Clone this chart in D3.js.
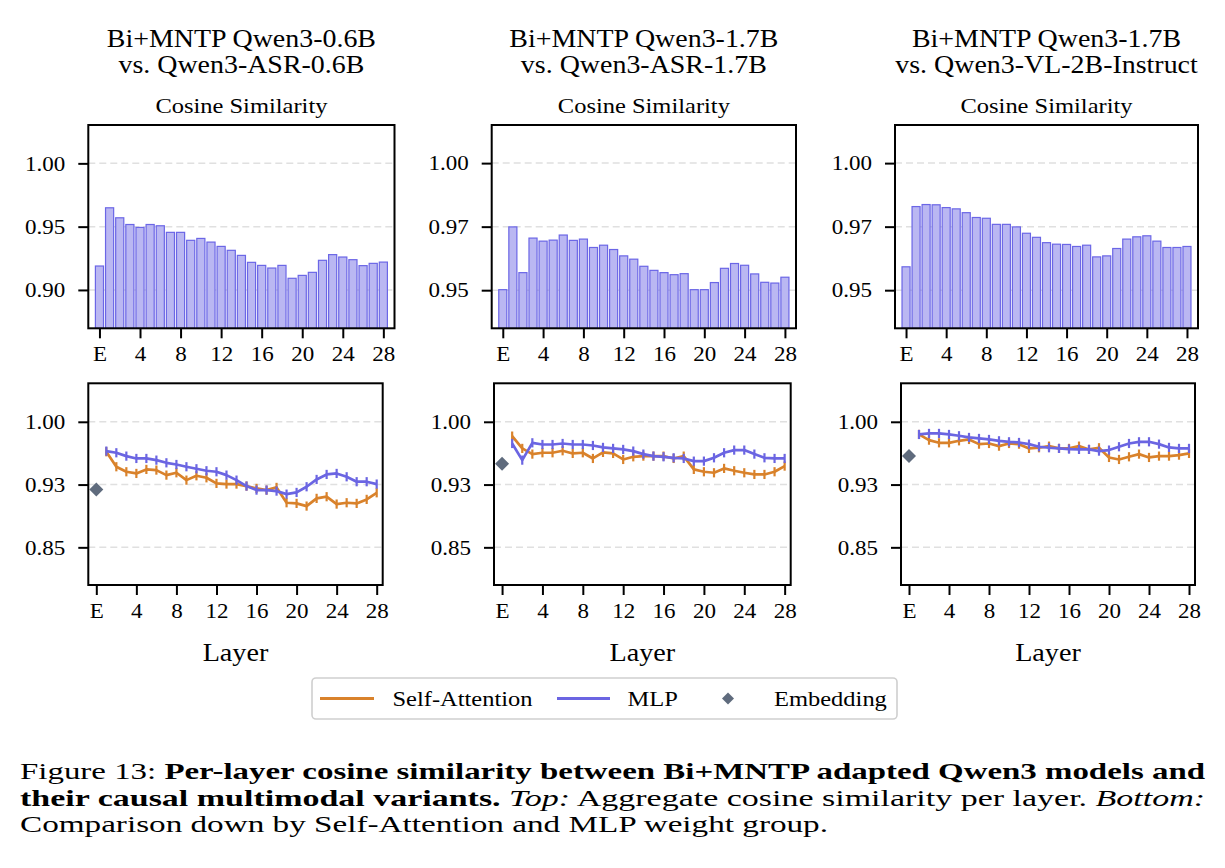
<!DOCTYPE html>
<html>
<head>
<meta charset="utf-8">
<script src="https://cdn.jsdelivr.net/npm/d3@7"></script>
<style>
  body { margin: 0; background: #fff; }
  svg text { font-family: "Liberation Serif", "Times New Roman", Tinos, serif; fill: #000; }
  .cap { position: absolute; left: 20px; font-family: "Liberation Serif", "Times New Roman", serif; font-size: 24px;
         line-height: 27px; white-space: nowrap; transform-origin: 0 0; }
</style>
</head>
<body>
<svg id="chart" width="1225" height="745"></svg>
<div id="caption"></div>
<script>
// ---- data ----
const titleLines = [
  ["Bi+MNTP Qwen3-0.6B", "vs. Qwen3-ASR-0.6B"],
  ["Bi+MNTP Qwen3-1.7B", "vs. Qwen3-ASR-1.7B"],
  ["Bi+MNTP Qwen3-1.7B", "vs. Qwen3-VL-2B-Instruct"]
];
const subTitle = "Cosine Similarity";
const xLabel = "Layer";

const layerTicks = [0, 4, 8, 12, 16, 20, 24, 28];
const layerTickLabels = ["E", "4", "8", "12", "16", "20", "24", "28"];

const topTicks = [[0.90, 0.95, 1.00], [0.95, 0.975, 1.00], [0.95, 0.975, 1.00]];
const topTickLabels = [["0.90", "0.95", "1.00"], ["0.95", "0.97", "1.00"], ["0.95", "0.97", "1.00"]];
const topDomains = [[0.8697, 1.0303], [0.935, 1.015], [0.935, 1.015]];

const botTicks = [0.85, 0.925, 1.00];
const botTickLabels = ["0.85", "0.93", "1.00"];
const botDomain = [0.805, 1.046];

// aggregate cosine similarity, E then layers 1..28
const barsA = [0.9189, 0.9649, 0.9570, 0.9517, 0.9494, 0.9517, 0.9507, 0.9455, 0.9455, 0.9392, 0.9407, 0.9378, 0.9344, 0.9313, 0.9273,
  0.9218, 0.9194, 0.9173, 0.9194, 0.9092, 0.9115, 0.9139, 0.9234, 0.9279, 0.9260, 0.9239, 0.9192, 0.9210, 0.9220];
const barsB = [0.9502, 0.9749, 0.9569, 0.9705, 0.9693, 0.9697, 0.9717, 0.9696, 0.9701, 0.9668, 0.9677, 0.9660, 0.9635, 0.9622, 0.9594,
  0.9578, 0.9569, 0.9561, 0.9565, 0.9502, 0.9502, 0.9530, 0.9586, 0.9605, 0.9598, 0.9564, 0.9531, 0.9528, 0.9551];
const barsC = [0.9592, 0.9829, 0.9837, 0.9836, 0.9825, 0.9820, 0.9805, 0.9786, 0.9783, 0.9759, 0.9759, 0.9749, 0.9724, 0.9708, 0.9687,
  0.9681, 0.9680, 0.9672, 0.9677, 0.9631, 0.9635, 0.9664, 0.9701, 0.9710, 0.9714, 0.9693, 0.9668, 0.9668, 0.9672];

// per weight group, layers 1..28
const attnA = [0.9642, 0.9463, 0.9403, 0.9383, 0.9431, 0.9423, 0.9363, 0.9391, 0.9303, 0.9355, 0.9331, 0.9264, 0.9256, 0.9256,
  0.9232, 0.9204, 0.9184, 0.9216, 0.9033, 0.9025, 0.8993, 0.9085, 0.9105, 0.9017, 0.9033, 0.9025, 0.9073, 0.9152];
const mlpA = [0.9650, 0.9630, 0.9590, 0.9562, 0.9562, 0.9542, 0.9510, 0.9490, 0.9463, 0.9439, 0.9415, 0.9403, 0.9363, 0.9303,
  0.9232, 0.9184, 0.9184, 0.9172, 0.9136, 0.9156, 0.9224, 0.9311, 0.9371, 0.9383, 0.9343, 0.9284, 0.9284, 0.9256];
const attnB = [0.9829, 0.9682, 0.9614, 0.9630, 0.9630, 0.9654, 0.9622, 0.9630, 0.9562, 0.9634, 0.9622, 0.9550, 0.9582, 0.9590,
  0.9590, 0.9590, 0.9562, 0.9590, 0.9431, 0.9403, 0.9391, 0.9443, 0.9415, 0.9391, 0.9371, 0.9371, 0.9403, 0.9471];
const mlpB = [0.9741, 0.9542, 0.9749, 0.9729, 0.9729, 0.9741, 0.9729, 0.9729, 0.9717, 0.9694, 0.9682, 0.9670, 0.9650, 0.9614,
  0.9590, 0.9582, 0.9570, 0.9562, 0.9530, 0.9530, 0.9570, 0.9630, 0.9662, 0.9662, 0.9614, 0.9570, 0.9562, 0.9562];
const attnC = [0.9849, 0.9781, 0.9749, 0.9749, 0.9773, 0.9789, 0.9733, 0.9741, 0.9709, 0.9741, 0.9733, 0.9682, 0.9690, 0.9709,
  0.9682, 0.9682, 0.9709, 0.9670, 0.9690, 0.9574, 0.9550, 0.9582, 0.9614, 0.9574, 0.9590, 0.9590, 0.9602, 0.9622];
const mlpC = [0.9849, 0.9861, 0.9861, 0.9849, 0.9833, 0.9813, 0.9801, 0.9789, 0.9773, 0.9761, 0.9753, 0.9733, 0.9702, 0.9690,
  0.9682, 0.9674, 0.9670, 0.9670, 0.9650, 0.9662, 0.9702, 0.9741, 0.9761, 0.9761, 0.9733, 0.9694, 0.9682, 0.9682];
const embedding = [0.919, 0.950, 0.959];

const topBars = [barsA, barsB, barsC];
const attnSeries = [attnA, attnB, attnC];
const mlpSeries = [mlpA, mlpB, mlpC];

const legendLabels = ["Self-Attention", "MLP", "Embedding"];

// ---- styling ----
const colAttn = "#d9822b", colMlp = "#6b65e2", colEmb = "#5f6b7d";
const barFill = "#bab7f2", barEdge = "#6b66e6";
const sx = 1.15;   // text in the reference is a little wider than Liberation Serif

// frame positions (pixels) for each column
const topCols = [[88.3, 394.5], [491.7, 796], [895, 1198]];
const botCols = [[88.3, 382.7], [494, 790.7], [901, 1195]];
const topRow = [125, 328.3], botRow = [383.3, 585];
const topXDom = [-1.1, 29.1], botXDom = [-0.8, 28.6];

const svg = d3.select("#chart");

function stretchedText(g, x, y, str, size, anchor) {
  return g.append("text")
    .attr("transform", `translate(${x},${y}) scale(${sx},1)`)
    .attr("text-anchor", anchor || "middle")
    .style("font-size", size + "px")
    .text(str);
}

function drawAxes(g, x, y, cols, row, ticks, labels) {
  // left
  const ya = g.append("g").attr("transform", `translate(${cols[0]},0)`)
    .call(d3.axisLeft(y).tickValues(ticks).tickFormat((d, i) => labels[i]).tickSize(10).tickPadding(13));
  ya.select(".domain").remove();
  ya.selectAll("line").attr("stroke", "#000").attr("stroke-width", 2);
  ya.selectAll("text").style("font-size", "20px").attr("x", -23 / sx)
    .attr("transform", `scale(${sx},1)`).attr("dy", "0.34em");

  const xa = g.append("g").attr("transform", `translate(0,${row[1]})`)
    .call(d3.axisBottom(x).tickValues(layerTicks).tickFormat((d, i) => layerTickLabels[i]).tickSize(10).tickPadding(9));
  xa.select(".domain").remove();
  xa.selectAll("line").attr("stroke", "#000").attr("stroke-width", 2);
  xa.selectAll("text").style("font-size", "20px").attr("transform", `scale(${sx},1)`);

  g.append("rect").attr("x", cols[0]).attr("y", row[0])
    .attr("width", cols[1] - cols[0]).attr("height", row[1] - row[0])
    .attr("fill", "none").attr("stroke", "#000").attr("stroke-width", 2);
}

function drawGrid(g, y, cols, ticks) {
  g.selectAll(null).data(ticks).join("line")
    .attr("x1", cols[0]).attr("x2", cols[1])
    .attr("y1", d => y(d)).attr("y2", d => y(d))
    .attr("stroke", "#e0e0e0").attr("stroke-width", 1.5).attr("stroke-dasharray", "7,4");
}

for (let c = 0; c < 3; c++) {
  // ---- top: aggregate bars ----
  const gt = svg.append("g");
  const cols = topCols[c];
  const x = d3.scaleLinear().domain(topXDom).range(cols);
  const y = d3.scaleLinear().domain(topDomains[c]).range([topRow[1], topRow[0]]);
  drawGrid(gt, y, cols, topTicks[c]);

  gt.selectAll(null).data(topBars[c]).join("rect")
    .attr("x", (d, i) => x(i - 0.4))
    .attr("width", x(0.8) - x(0))
    .attr("y", d => y(d))
    .attr("height", d => topRow[1] - y(d))
    .attr("fill", barFill).attr("stroke", barEdge).attr("stroke-width", 1.2);

  drawAxes(gt, x, y, cols, topRow, topTicks[c], topTickLabels[c]);

  const cx = (cols[0] + cols[1]) / 2;
  stretchedText(gt, cx, 46.7, titleLines[c][0], 24.3);
  stretchedText(gt, cx, 73.3, titleLines[c][1], 24.3);
  stretchedText(gt, cx, 113, subTitle, 21.3);

  // ---- bottom: per weight group ----
  const gb = svg.append("g");
  const bc = botCols[c];
  const xb = d3.scaleLinear().domain(botXDom).range(bc);
  const yb = d3.scaleLinear().domain(botDomain).range([botRow[1], botRow[0]]);
  drawGrid(gb, yb, bc, botTicks);

  const line = d3.line().x((d, i) => xb(i + 1)).y(d => yb(d));
  [[attnSeries[c], colAttn], [mlpSeries[c], colMlp]].forEach(([vals, col]) => {
    gb.append("path").datum(vals).attr("d", line)
      .attr("fill", "none").attr("stroke", col).attr("stroke-width", 2.7).attr("stroke-linejoin", "round");
    gb.selectAll(null).data(vals).join("line")
      .attr("x1", (d, i) => xb(i + 1)).attr("x2", (d, i) => xb(i + 1))
      .attr("y1", d => yb(d) - 4.6).attr("y2", d => yb(d) + 4.6)
      .attr("stroke", col).attr("stroke-width", 2.2);
  });

  gb.append("path")
    .attr("d", d3.symbol(d3.symbolSquare, 98)())
    .attr("transform", `translate(${xb(0)},${yb(embedding[c])}) rotate(45)`)
    .attr("fill", colEmb);

  drawAxes(gb, xb, yb, bc, botRow, botTicks, botTickLabels);
  stretchedText(gb, (bc[0] + bc[1]) / 2, 660.7, xLabel, 24.5);
}

// ---- legend ----
const lg = svg.append("g");
lg.append("rect").attr("x", 312).attr("y", 678).attr("width", 585).attr("height", 41).attr("rx", 4)
  .attr("fill", "#fff").attr("stroke", "#cfcfcf").attr("stroke-width", 1.6);
lg.append("line").attr("x1", 320).attr("x2", 374).attr("y1", 698.5).attr("y2", 698.5)
  .attr("stroke", colAttn).attr("stroke-width", 3);
stretchedText(lg, 392.5, 705.5, legendLabels[0], 21.3, "start");
lg.append("line").attr("x1", 557).attr("x2", 610).attr("y1", 698.5).attr("y2", 698.5)
  .attr("stroke", colMlp).attr("stroke-width", 3);
stretchedText(lg, 627.5, 705.5, legendLabels[1], 21.3, "start");
lg.append("path").attr("d", d3.symbol(d3.symbolSquare, 72)())
  .attr("transform", "translate(728,698.5) rotate(45)").attr("fill", colEmb);
stretchedText(lg, 774, 705.5, legendLabels[2], 21.3, "start");

// ---- caption (HTML text), each line scaled to the width it has in the reference ----
const capLines = [
  'Figure 13: <b>Per-layer cosine similarity between Bi+MNTP adapted Qwen3 models and</b>',
  '<b>their causal multimodal variants.</b> <i>Top:</i> Aggregate cosine similarity per layer. <i>Bottom:</i>',
  'Comparison down by Self-Attention and MLP weight group.'
];
const capTops = [758, 784.5, 811];
const capWidths = [1185, 1185, 808];
const cap = d3.select("#caption");
capLines.forEach((h, i) => {
  const div = cap.append("div").attr("class", "cap").style("top", capTops[i] + "px").html(h);
  const w = div.node().getBoundingClientRect().width;
  div.style("transform", `scaleX(${capWidths[i] / w})`);
});
</script>
</body>
</html>
